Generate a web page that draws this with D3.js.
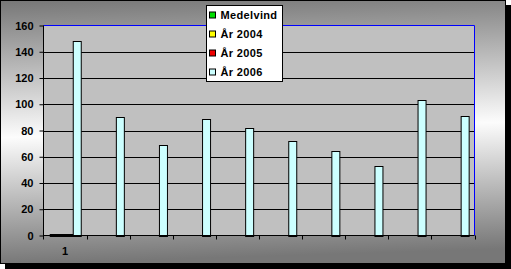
<!DOCTYPE html>
<html>
<head>
<meta charset="utf-8">
<script src="https://cdn.jsdelivr.net/npm/d3@7"></script>
<style>
    body { margin: 0; background: #fff; }
    text { font-family: "Liberation Sans", Arial, sans-serif; font-weight: bold; }
</style>
</head>
<body>
<script>
// chart data
const categories = ["1", "2", "3", "4", "5", "6", "7", "8", "9", "10"];
const categoryLabels = ["1", "", "", "", "", "", "", "", "", ""];
const seriesNames = ["Medelvind", "År 2004", "År 2005", "År 2006"];
const seriesColors = ["#00dd00", "#ffff00", "#ee0000", "#ccffff"];
const medelvind = [1, null, null, null, null, null, null, null, null, null];
const ar2004 = [1, null, null, null, null, null, null, null, null, null];
const ar2005 = [1, null, null, null, null, null, null, null, null, null];
const ar2006 = [148, 90, 69, 89, 82, 72, 64, 53, 103, 91];
const yTicks = [0, 20, 40, 60, 80, 100, 120, 140, 160];

(function() {

    const width = 511;
    const height = 269;
    const margin = {left: 43.5, right: 474.5, top: 25.5, bottom: 235.5};
    const seriesValues = [medelvind, ar2004, ar2005, ar2006];

    let svg = d3.select("body")
        .append("svg")
        .attr("width", width)
        .attr("height", height);

    let defs = svg.append("defs");
    let grad = defs.append("linearGradient")
        .attr("id", "bg")
        .attr("x1", "0%").attr("y1", "0%")
        .attr("x2", "6%").attr("y2", "100%");
    grad.append("stop").attr("offset", "0%").attr("stop-color", "#777");
    grad.append("stop").attr("offset", "52%").attr("stop-color", "#fcfcfc");
    grad.append("stop").attr("offset", "100%").attr("stop-color", "#777");

    // shadow + chart area
    svg.append("rect")
        .attr("x", 5).attr("y", 5)
        .attr("width", width - 5).attr("height", height - 5)
        .style("fill", "#000");
    svg.append("rect")
        .attr("x", 0.5).attr("y", 0.5)
        .attr("width", 505).attr("height", 263)
        .style("fill", "url(#bg)")
        .style("stroke", "#000");

    // scales
    let x0 = d3.scaleBand()
        .domain(categories)
        .range([margin.left, margin.right])
        .paddingInner(0.29)
        .paddingOuter(0.145);

    let x1 = d3.scaleBand()
        .domain(seriesNames)
        .range([0, x0.bandwidth()]);

    let y = d3.scaleLinear()
        .domain([0, 160])
        .range([margin.bottom, margin.top]);

    // plot area
    svg.append("rect")
        .attr("x", margin.left).attr("y", margin.top)
        .attr("width", margin.right - margin.left)
        .attr("height", margin.bottom - margin.top)
        .style("fill", "#c0c0c0");

    // gridlines
    svg.append("g")
        .selectAll("line")
        .data(yTicks.slice(1, -1))
        .enter()
        .append("line")
        .attr("x1", margin.left).attr("x2", margin.right)
        .attr("y1", d => Math.round(y(d)) + 0.5)
        .attr("y2", d => Math.round(y(d)) + 0.5)
        .style("stroke", "#000");

    // blue top and right border
    svg.append("path")
        .attr("d", "M" + margin.left + "," + margin.top + "H" + margin.right + "V" + margin.bottom)
        .style("fill", "none")
        .style("stroke", "#0000ff");

    // bars
    let groups = svg.append("g")
        .selectAll("g")
        .data(categories)
        .enter()
        .append("g")
        .attr("transform", d => "translate(" + x0(d) + ",0)");

    groups.selectAll("rect")
        .data((d, i) => seriesNames.map((s, j) => ({name: s, value: seriesValues[j][i], color: seriesColors[j]})))
        .enter()
        .filter(d => d.value != null)
        .append("rect")
        .attr("x", d => Math.round(x1(d.name)) + 0.5)
        .attr("y", d => Math.round(y(d.value)) + 0.5)
        .attr("width", d => Math.round(x1.bandwidth()))
        .attr("height", d => Math.round(margin.bottom) - Math.round(y(d.value)))
        .style("fill", d => d.color)
        .style("stroke", "#000");

    // y axis
    let yAxis = svg.append("g")
        .attr("transform", "translate(" + margin.left + ",0)")
        .call(d3.axisLeft(y).tickValues(yTicks).tickSize(4).tickPadding(6));
    yAxis.select(".domain").remove();
    yAxis.selectAll(".tick line").style("stroke", "#000");
    yAxis.selectAll("text").style("font-size", "11px").style("fill", "#000");
    yAxis.selectAll(".tick").filter(d => d == 160).select("line").style("stroke", "#000");

    svg.append("line")
        .attr("x1", margin.left).attr("x2", margin.left)
        .attr("y1", margin.top).attr("y2", margin.bottom + 4)
        .style("stroke", "#000");

    // x axis
    svg.append("line")
        .attr("x1", margin.left).attr("x2", margin.right)
        .attr("y1", margin.bottom).attr("y2", margin.bottom)
        .style("stroke", "#000");

    let step = x0.step();
    svg.append("g")
        .selectAll("line")
        .data(categories)
        .enter()
        .append("line")
        .attr("x1", d => Math.round(x0(d) - x0.paddingOuter() * step + step) + 0.5)
        .attr("x2", d => Math.round(x0(d) - x0.paddingOuter() * step + step) + 0.5)
        .attr("y1", margin.bottom).attr("y2", margin.bottom + 4)
        .style("stroke", "#000");

    svg.append("g")
        .selectAll("text")
        .data(categories)
        .enter()
        .append("text")
        .attr("x", d => x0(d) + x0.bandwidth() / 2)
        .attr("y", 255)
        .attr("text-anchor", "middle")
        .style("font-size", "11px")
        .text((d, i) => categoryLabels[i]);

    // legend
    let legend = svg.append("g")
        .attr("transform", "translate(206.5,5.5)");
    legend.append("rect")
        .attr("width", 76).attr("height", 76)
        .style("fill", "#fff")
        .style("stroke", "#000");

    let items = legend.selectAll(".item")
        .data(seriesNames)
        .enter()
        .append("g")
        .attr("class", "item")
        .attr("transform", (d, i) => "translate(0," + (9.5 + i * 19) + ")");

    items.append("rect")
        .attr("x", 3).attr("y", -3)
        .attr("width", 6).attr("height", 6)
        .style("fill", (d, i) => seriesColors[i])
        .style("stroke", "#000");

    items.append("text")
        .attr("x", 14)
        .attr("dy", "0.36em")
        .style("font-size", "11px")
        .style("letter-spacing", "0.35px")
        .text(d => d);

})();
</script>
</body>
</html>
